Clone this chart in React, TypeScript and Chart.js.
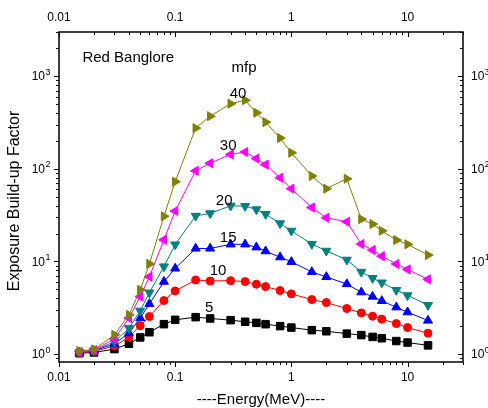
import React, { useEffect, useRef } from "react";
import { Chart, registerables } from "chart.js";

Chart.register(...registerables);

// Photon energies (MeV)
const energies = [
  0.015, 0.02, 0.03, 0.04, 0.05, 0.06, 0.08, 0.1, 0.15, 0.2, 0.3, 0.4, 0.5,
  0.6, 0.8, 1, 1.5, 2, 3, 4, 5, 6, 8, 10, 15,
];

// Exposure build-up factors at each penetration depth (mfp)
const mfp5 = [
  1.02, 1.04, 1.13, 1.29, 1.51, 1.72, 2.1, 2.34, 2.5, 2.42, 2.32, 2.23, 2.17,
  2.1, 2.0, 1.93, 1.81, 1.76, 1.66, 1.6, 1.53, 1.48, 1.38, 1.33, 1.24,
];
const mfp10 = [
  1.03, 1.07, 1.22, 1.52, 2.02, 2.54, 3.78, 4.8, 6.3, 6.15, 6.2, 6.05, 5.67,
  5.35, 4.84, 4.46, 3.87, 3.59, 3.1, 2.78, 2.56, 2.38, 2.13, 1.93, 1.68,
];
const mfp15 = [
  1.04, 1.08, 1.29, 1.68, 2.44, 3.48, 6.05, 8.4, 13.8, 13.8, 15.3, 15.3, 14.2,
  12.9, 11.1, 9.9, 7.7, 6.8, 5.7, 4.65, 4.17, 3.75, 3.2, 2.83, 2.3,
];
const mfp20 = [
  1.05, 1.09, 1.36, 1.9, 2.93, 4.6, 8.8, 15.2, 31, 33, 39.8, 39.5, 36.4, 32.4,
  25.7, 21.4, 15.4, 13.0, 10.4, 7.7, 6.6, 5.9, 4.9, 4.3, 3.37,
];
const mfp30 = [
  1.06, 1.1, 1.46, 2.44, 4.17, 6.84, 17.1, 35, 95, 115, 143, 152, 129, 111, 80,
  61, 38.2, 29.6, 26.8, 15.4, 13.3, 11.4, 9.4, 8.2, 6.4,
];
const mfp40 = [
  1.08, 1.12, 1.61, 2.65, 4.93, 9.4, 30.7, 72.5, 275, 370, 504, 550, 403, 319,
  215, 149, 83.6, 61, 78, 28.6, 25.3, 21.4, 17.0, 15.3, 11.7,
];

// Axis ranges and decade labels
const xRange = [0.01, 30];
const yRange = [0.82, 3000];
const xDecadeLabels = ["0.01", "0.1", "1", "10"];
const yDecadeExponents = [0, 1, 2, 3];

// Text placed in data coordinates
const notes = [
  { text: "Red Banglore", x: 0.0159, y: 1585, align: "left" },
  { text: "mfp", x: 0.392, y: 1238, align: "center" },
  { text: "40", x: 0.348, y: 650, align: "center" },
  { text: "30", x: 0.286, y: 175, align: "center" },
  { text: "20", x: 0.264, y: 44.7, align: "center" },
  { text: "15", x: 0.286, y: 17.9, align: "center" },
  { text: "10", x: 0.234, y: 7.88, align: "center" },
  { text: "5", x: 0.196, y: 3.15, align: "center" },
];

const FONT = "'Liberation Sans', Arial, sans-serif";

const pairs = (ys: number[]) => energies.map((x, i) => ({ x, y: ys[i] }));

const series = (
  label: string,
  ys: number[],
  color: string,
  pointStyle: string,
  radius: number,
  rotation = 0
) => ({
  label,
  data: pairs(ys),
  borderColor: color,
  backgroundColor: color,
  borderWidth: 1,
  pointStyle,
  pointRadius: radius,
  pointRotation: rotation,
  pointBorderWidth: 1,
  pointBorderColor: color,
  pointBackgroundColor: color,
  tension: 0,
});

const frameAndText = {
  id: "frameAndText",
  afterDraw(chart: any) {
    const { ctx, chartArea } = chart;
    const { left, right, top, bottom } = chartArea;
    const xs = chart.scales.x;
    const ys = chart.scales.y;
    ctx.save();

    // frame
    ctx.strokeStyle = "#000";
    ctx.lineWidth = 1.5;
    ctx.strokeRect(left, top, right - left, bottom - top);

    // ticks: outward on bottom/left, inward on top/right
    ctx.lineWidth = 1;
    ctx.beginPath();
    for (let d = -2; d <= 1; d++) {
      for (let k = 1; k <= 9; k++) {
        const v = k * Math.pow(10, d);
        if (v < xRange[0] - 1e-9 || v > xRange[1] + 1e-9) continue;
        const px = Math.round(xs.getPixelForValue(v)) + 0.5;
        const len = k === 1 ? 5 : 3;
        ctx.moveTo(px, bottom);
        ctx.lineTo(px, bottom + len);
        ctx.moveTo(px, top);
        ctx.lineTo(px, top + len);
      }
    }
    for (let d = -1; d <= 3; d++) {
      for (let k = 1; k <= 9; k++) {
        const v = k * Math.pow(10, d);
        if (v < yRange[0] || v > yRange[1]) continue;
        const py = Math.round(ys.getPixelForValue(v)) + 0.5;
        const len = k === 1 ? 5 : 3;
        ctx.moveTo(left, py);
        ctx.lineTo(left - len, py);
        ctx.moveTo(right, py);
        ctx.lineTo(right - len, py);
      }
    }
    ctx.stroke();

    // x tick labels (bottom and top)
    ctx.fillStyle = "#000";
    ctx.font = `12px ${FONT}`;
    ctx.textAlign = "center";
    ctx.textBaseline = "middle";
    xDecadeLabels.forEach((lab) => {
      const px = xs.getPixelForValue(parseFloat(lab));
      ctx.fillText(lab, px, bottom + 16);
      ctx.fillText(lab, px, top - 14);
    });

    // y tick labels with superscript exponents (left and right)
    yDecadeExponents.forEach((e) => {
      const py = ys.getPixelForValue(Math.pow(10, e));
      const base = "10";
      const sup = String(e);
      ctx.font = `12px ${FONT}`;
      const wb = ctx.measureText(base).width;
      ctx.font = `9px ${FONT}`;
      const ws = ctx.measureText(sup).width;
      ctx.textAlign = "left";
      // left side
      const lx = left - 9 - ws - wb;
      ctx.font = `12px ${FONT}`;
      ctx.fillText(base, lx, py + 1);
      ctx.font = `9px ${FONT}`;
      ctx.fillText(sup, lx + wb + 0.5, py - 4);
      // right side
      const rx = right + 8;
      ctx.font = `12px ${FONT}`;
      ctx.fillText(base, rx, py + 1);
      ctx.font = `9px ${FONT}`;
      ctx.fillText(sup, rx + wb + 0.5, py - 4);
    });

    // axis titles
    ctx.textAlign = "center";
    ctx.font = `15px ${FONT}`;
    ctx.fillText("----Energy(MeV)----", (left + right) / 2, 400);
    ctx.save();
    ctx.font = `16px ${FONT}`;
    ctx.translate(15, (top + bottom) / 2 + 4);
    ctx.rotate(-Math.PI / 2);
    ctx.fillText("Exposure Build-up Factor", 0, 0);
    ctx.restore();

    // annotations
    ctx.font = `15px ${FONT}`;
    notes.forEach((n) => {
      ctx.textAlign = n.align as CanvasTextAlign;
      ctx.fillText(n.text, xs.getPixelForValue(n.x), ys.getPixelForValue(n.y));
    });

    ctx.restore();
  },
};

export default function App() {
  const ref = useRef<HTMLCanvasElement>(null);

  useEffect(() => {
    const hidden = {
      grid: { display: false },
      border: { display: false },
      ticks: { display: false },
    };
    const chart = new Chart(ref.current as HTMLCanvasElement, {
      type: "line",
      data: {
        datasets: [
          series("40", mfp40, "#808000", "triangle", 5.2, 90),
          series("30", mfp30, "#FF00FF", "triangle", 5.2, 270),
          series("20", mfp20, "#008080", "triangle", 5.2, 180),
          series("15", mfp15, "#0000FF", "triangle", 5.2, 0),
          series("10", mfp10, "#FF0000", "circle", 4, 0),
          series("5", mfp5, "#000000", "rect", 5.3, 0),
        ] as any,
      },
      options: {
        responsive: false,
        animation: false,
        devicePixelRatio: 1,
        layout: { padding: 0 },
        plugins: {
          legend: { display: false },
          tooltip: { enabled: false },
        },
        scales: {
          x: {
            type: "logarithmic",
            position: "bottom",
            min: xRange[0],
            max: xRange[1],
            ...hidden,
            afterFit: (s: any) => {
              s.height = 46;
            },
          },
          x2: {
            type: "logarithmic",
            position: "top",
            min: xRange[0],
            max: xRange[1],
            ...hidden,
            afterFit: (s: any) => {
              s.height = 32;
            },
          },
          y: {
            type: "logarithmic",
            position: "left",
            min: yRange[0],
            max: yRange[1],
            ...hidden,
            afterFit: (s: any) => {
              s.width = 59;
            },
          },
          y2: {
            type: "logarithmic",
            position: "right",
            min: yRange[0],
            max: yRange[1],
            ...hidden,
            afterFit: (s: any) => {
              s.width = 25;
            },
          },
        } as any,
      },
      plugins: [frameAndText],
    });
    return () => chart.destroy();
  }, []);

  return (
    <div
      style={{
        position: "fixed",
        left: 0,
        top: 0,
        width: 488,
        height: 408,
        background: "#fff",
      }}
    >
      <canvas
        ref={ref}
        width={488}
        height={408}
        style={{ display: "block", width: 488, height: 408 }}
      />
    </div>
  );
}
